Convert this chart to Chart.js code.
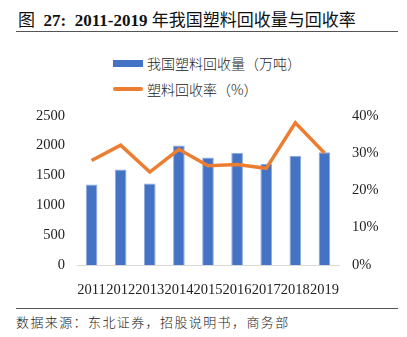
<!DOCTYPE html>
<html>
<head>
<meta charset="utf-8">
<script src="https://cdn.jsdelivr.net/npm/chart.js@4"></script>
<style>
  body { margin: 0; background: #fff; width: 407px; height: 337px; position: relative; overflow: hidden; }
  .title { position: absolute; left: 18px; top: 6px; font-size: 17px; color: #111; white-space: nowrap;
           font-family: "Liberation Serif", "Noto Sans CJK SC", serif; }
  .title b { font-weight: bold; }
  .rule { position: absolute; left: 16px; width: 382px; height: 1px; background: #555; }
  #legend { position: absolute; left: 113px; top: 50px; font-family: "Noto Sans CJK SC", sans-serif; font-size: 14px;
            font-weight: 300; color: #222; }
  #legend div { height: 26px; display: flex; align-items: center; white-space: nowrap; }
  #legend span.sw { display: inline-block; width: 30px; margin-right: 4px; }
  #wrap { position: absolute; left: 0; top: 102px; width: 407px; height: 198px; }
  .src { position: absolute; left: 16px; top: 312px; font-family: "Noto Sans CJK SC", sans-serif; font-size: 13px;
         font-weight: 300; letter-spacing: 1.4px; color: #222; white-space: nowrap; }
</style>
</head>
<body>
<div class="title">图&nbsp;&nbsp;<b>27:&nbsp;&nbsp;2011-2019</b>&nbsp;年我国塑料回收量与回收率</div>
<div class="rule" style="top:31px"></div>
<div id="legend"></div>
<div id="wrap"><canvas id="c"></canvas></div>
<div class="rule" style="top:308px"></div>
<div class="src">数据来源：东北证券，招股说明书，商务部</div>
<script>
// 2011-2019 plastic recycling
const years = ['2011', '2012', '2013', '2014', '2015', '2016', '2017', '2018', '2019'];
const recycleVolume = [1350, 1600, 1366, 2000, 1800, 1878, 1690, 1830, 1890]; // 万吨
const recycleRate = [28.0, 32.1, 24.9, 31.0, 26.6, 26.9, 25.9, 38.1, 30.0];   // %
const leftTicks = [0, 2500, 500];
const rightTicks = [0, 40, 10];

Chart.defaults.font.family = "'Liberation Serif', serif";

const chart = new Chart(document.getElementById('c'), {
  data: {
    labels: years,
    datasets: [
      {
        type: 'bar',
        label: '我国塑料回收量（万吨）',
        data: recycleVolume,
        backgroundColor: '#4472C4',
        borderColor: '#8EA9DB',
        borderWidth: 1,
        barPercentage: 0.4,
        categoryPercentage: 1,
        yAxisID: 'y',
        order: 2
      },
      {
        type: 'line',
        label: '塑料回收率（%）',
        data: recycleRate,
        borderColor: '#ED7D31',
        borderWidth: 3.5,
        pointRadius: 0,
        tension: 0,
        yAxisID: 'y1',
        order: 1
      }
    ]
  },
  options: {
    responsive: true,
    maintainAspectRatio: false,
    animation: false,
    layout: { padding: { top: 10, bottom: 0, left: 0, right: 0 } },
    plugins: { legend: { display: false }, tooltip: { enabled: false } },
    scales: {
      x: {
        grid: { display: false },
        border: { display: true, color: '#d9d9d9', width: 1 },
        ticks: { font: { size: 14.5 }, color: '#222', autoSkip: false, maxRotation: 0, padding: 8 },
        afterFit: s => { s.height = 35; }
      },
      y: {
        position: 'left',
        min: leftTicks[0], max: leftTicks[1],
        grid: { display: false },
        border: { display: false },
        ticks: { stepSize: leftTicks[2], font: { size: 14.5 }, color: '#222', padding: 4,
                 callback: v => String(v) },
        afterFit: s => { s.width = 77; }
      },
      y1: {
        position: 'right',
        min: rightTicks[0], max: rightTicks[1],
        grid: { display: false },
        border: { display: false },
        ticks: { stepSize: rightTicks[2], font: { size: 14.5 }, color: '#222', padding: 5,
                 callback: v => v + '%' },
        afterFit: s => { s.width = 68; }
      }
    }
  }
});

// vertical legend like the source figure
const legend = document.getElementById('legend');
chart.data.datasets.forEach(ds => {
  const row = document.createElement('div');
  const sw = document.createElement('span');
  sw.className = 'sw';
  if (ds.type === 'bar') {
    sw.style.height = '7px';
    sw.style.background = ds.backgroundColor;
  } else {
    sw.style.height = '3.5px';
    sw.style.background = ds.borderColor;
    sw.style.borderRadius = '2px';
  }
  row.appendChild(sw);
  row.appendChild(document.createTextNode(ds.label));
  legend.appendChild(row);
});
</script>
</body>
</html>
